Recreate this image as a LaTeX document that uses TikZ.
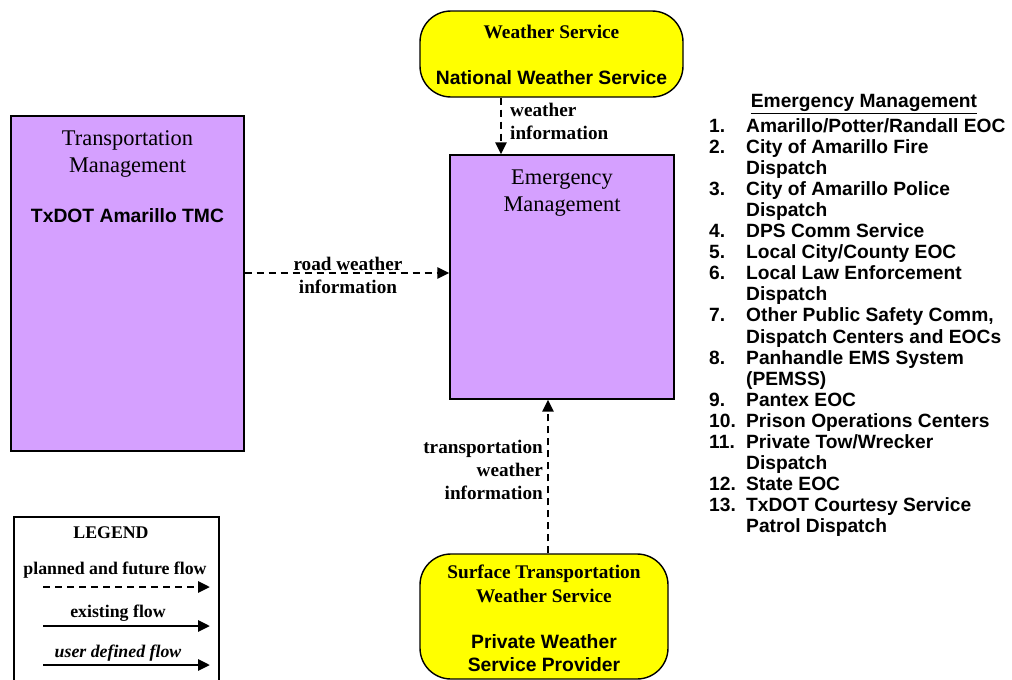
\documentclass[tikz,border=0pt]{standalone}
\usepackage{fontspec}
\setmainfont{Liberation Serif}
\newfontfamily\arialfont{Liberation Sans}
\usetikzlibrary{arrows.meta}
\definecolor{mgmtpurple}{RGB}{213,160,255}
\definecolor{svcyellow}{RGB}{255,255,0}
\begin{document}
\begin{tikzpicture}[x=1pt,y=-1pt,
  mgmtbox/.style={draw=black, fill=mgmtpurple, line width=1.4pt, inner sep=0pt},
  svcbox/.style={draw=black, fill=svcyellow, line width=1.4pt, rounded corners=31pt, inner sep=0pt},
  legbox/.style={draw=black, line width=1.4pt, inner sep=0pt},
  titletxt/.style={font={\fontsize{22.4}{27}\selectfont}, align=center, inner sep=0pt},
  nametxt/.style={font={\arialfont\bfseries\fontsize{19.3}{23}\selectfont}, align=center, inner sep=0pt},
  svctxt/.style={font={\bfseries\fontsize{19.3}{24}\selectfont}, align=center, inner sep=0pt},
  lbltxt/.style={font={\bfseries\fontsize{19.2}{23}\selectfont}, inner sep=0pt},
  legtxt/.style={font={\bfseries\fontsize{17.8}{21}\selectfont}, inner sep=0pt},
  listtxt/.style={font={\arialfont\bfseries\fontsize{19.2}{21.1}\selectfont}, inner sep=0pt},
  flow/.style={line width=2.8pt, dash pattern=on 7pt off 5pt, -{Triangle[length=12pt,width=11pt]}},
  solidflow/.style={line width=2.8pt, -{Triangle[length=12pt,width=11pt]}}
]
\useasboundingbox (0,0) rectangle (1012,680);
\clip (0,0) rectangle (1012,680);

% Transportation Management
\node[mgmtbox, minimum width=233pt, minimum height=335pt] (tm) at (127.5,283.5) {};
\node[titletxt] (tmtitle) at (127.5,154) {Transportation\\Management};
\node[nametxt] (tmname) at (127.5,216) {TxDOT Amarillo TMC};

% Emergency Management
\node[mgmtbox, minimum width=224pt, minimum height=244pt] (em) at (562,277) {};
\node[titletxt] (emtitle) at (562,193) {Emergency\\Management};

% Weather Service
\node[svcbox, minimum width=263pt, minimum height=86pt] (ws) at (551.5,54) {};
\node[svctxt] (wstitle) at (551.5,32) {Weather Service};
\node[nametxt] (wsname) at (551.5,78) {National Weather Service};

% Surface Transportation Weather Service
\node[svcbox, minimum width=248pt, minimum height=125pt] (stws) at (544,616.5) {};
\node[svctxt] (ststitle) at (544,584) {Surface Transportation\\Weather Service};
\node[nametxt] (stsname) at (544,653.5) {Private Weather\\Service Provider};

% Connectors
\coordinate (wx) at (501,0);
\draw[flow] (ws.south -| wx) -- (em.north -| wx);
\node[lbltxt, anchor=west, align=left] (wlbl) at (510,121) {weather\\information};

\coordinate (ry) at (0,273);
\draw[flow] (tm.east |- ry) -- (em.west |- ry);
\node[lbltxt, align=center] (rlbl) at (348,275) {road weather\\information};

\coordinate (ux) at (548,0);
\draw[flow] (stws.north -| ux) -- (em.south -| ux);
\node[lbltxt, anchor=east, align=right] (ulbl) at (543,470) {transportation\\weather\\information};

% Legend
\node[legbox, minimum width=205pt, minimum height=180pt] (legend) at (116.5,607) {};
\node[legtxt] (legtitle) at (111,533) {LEGEND};
\node[legtxt] (legplanned) at (115,570) {planned and future flow};
\node[legtxt] (legexisting) at (118,613) {existing flow};
\node[legtxt] (leguser) at (118,653) {\itshape user defined flow};
\coordinate (l1a) at (43,587);
\coordinate (l1b) at (210,587);
\coordinate (l2a) at (43,626);
\coordinate (l2b) at (210,626);
\coordinate (l3a) at (43,665);
\coordinate (l3b) at (210,665);
\draw[flow] (l1a) -- (l1b);
\draw[solidflow] (l2a) -- (l2b);
\draw[solidflow] (l3a) -- (l3b);

% Emergency Management list
\node[listtxt] (emhead) at (864,104) {\underline{Emergency Management}};
\node[listtxt, anchor=base west] (emlist) at (709,132) {%
\begin{tabular}[t]{@{}p{37pt}@{}l@{}}
1. & Amarillo/Potter/Randall EOC\\
2. & City of Amarillo Fire\\
   & Dispatch\\
3. & City of Amarillo Police\\
   & Dispatch\\
4. & DPS Comm Service\\
5. & Local City/County EOC\\
6. & Local Law Enforcement\\
   & Dispatch\\
7. & Other Public Safety Comm,\\
   & Dispatch Centers and EOCs\\
8. & Panhandle EMS System\\
   & (PEMSS)\\
9. & Pantex EOC\\
10. & Prison Operations Centers\\
11. & Private Tow/Wrecker\\
   & Dispatch\\
12. & State EOC\\
13. & TxDOT Courtesy Service\\
   & Patrol Dispatch
\end{tabular}};
\end{tikzpicture}
\end{document}
